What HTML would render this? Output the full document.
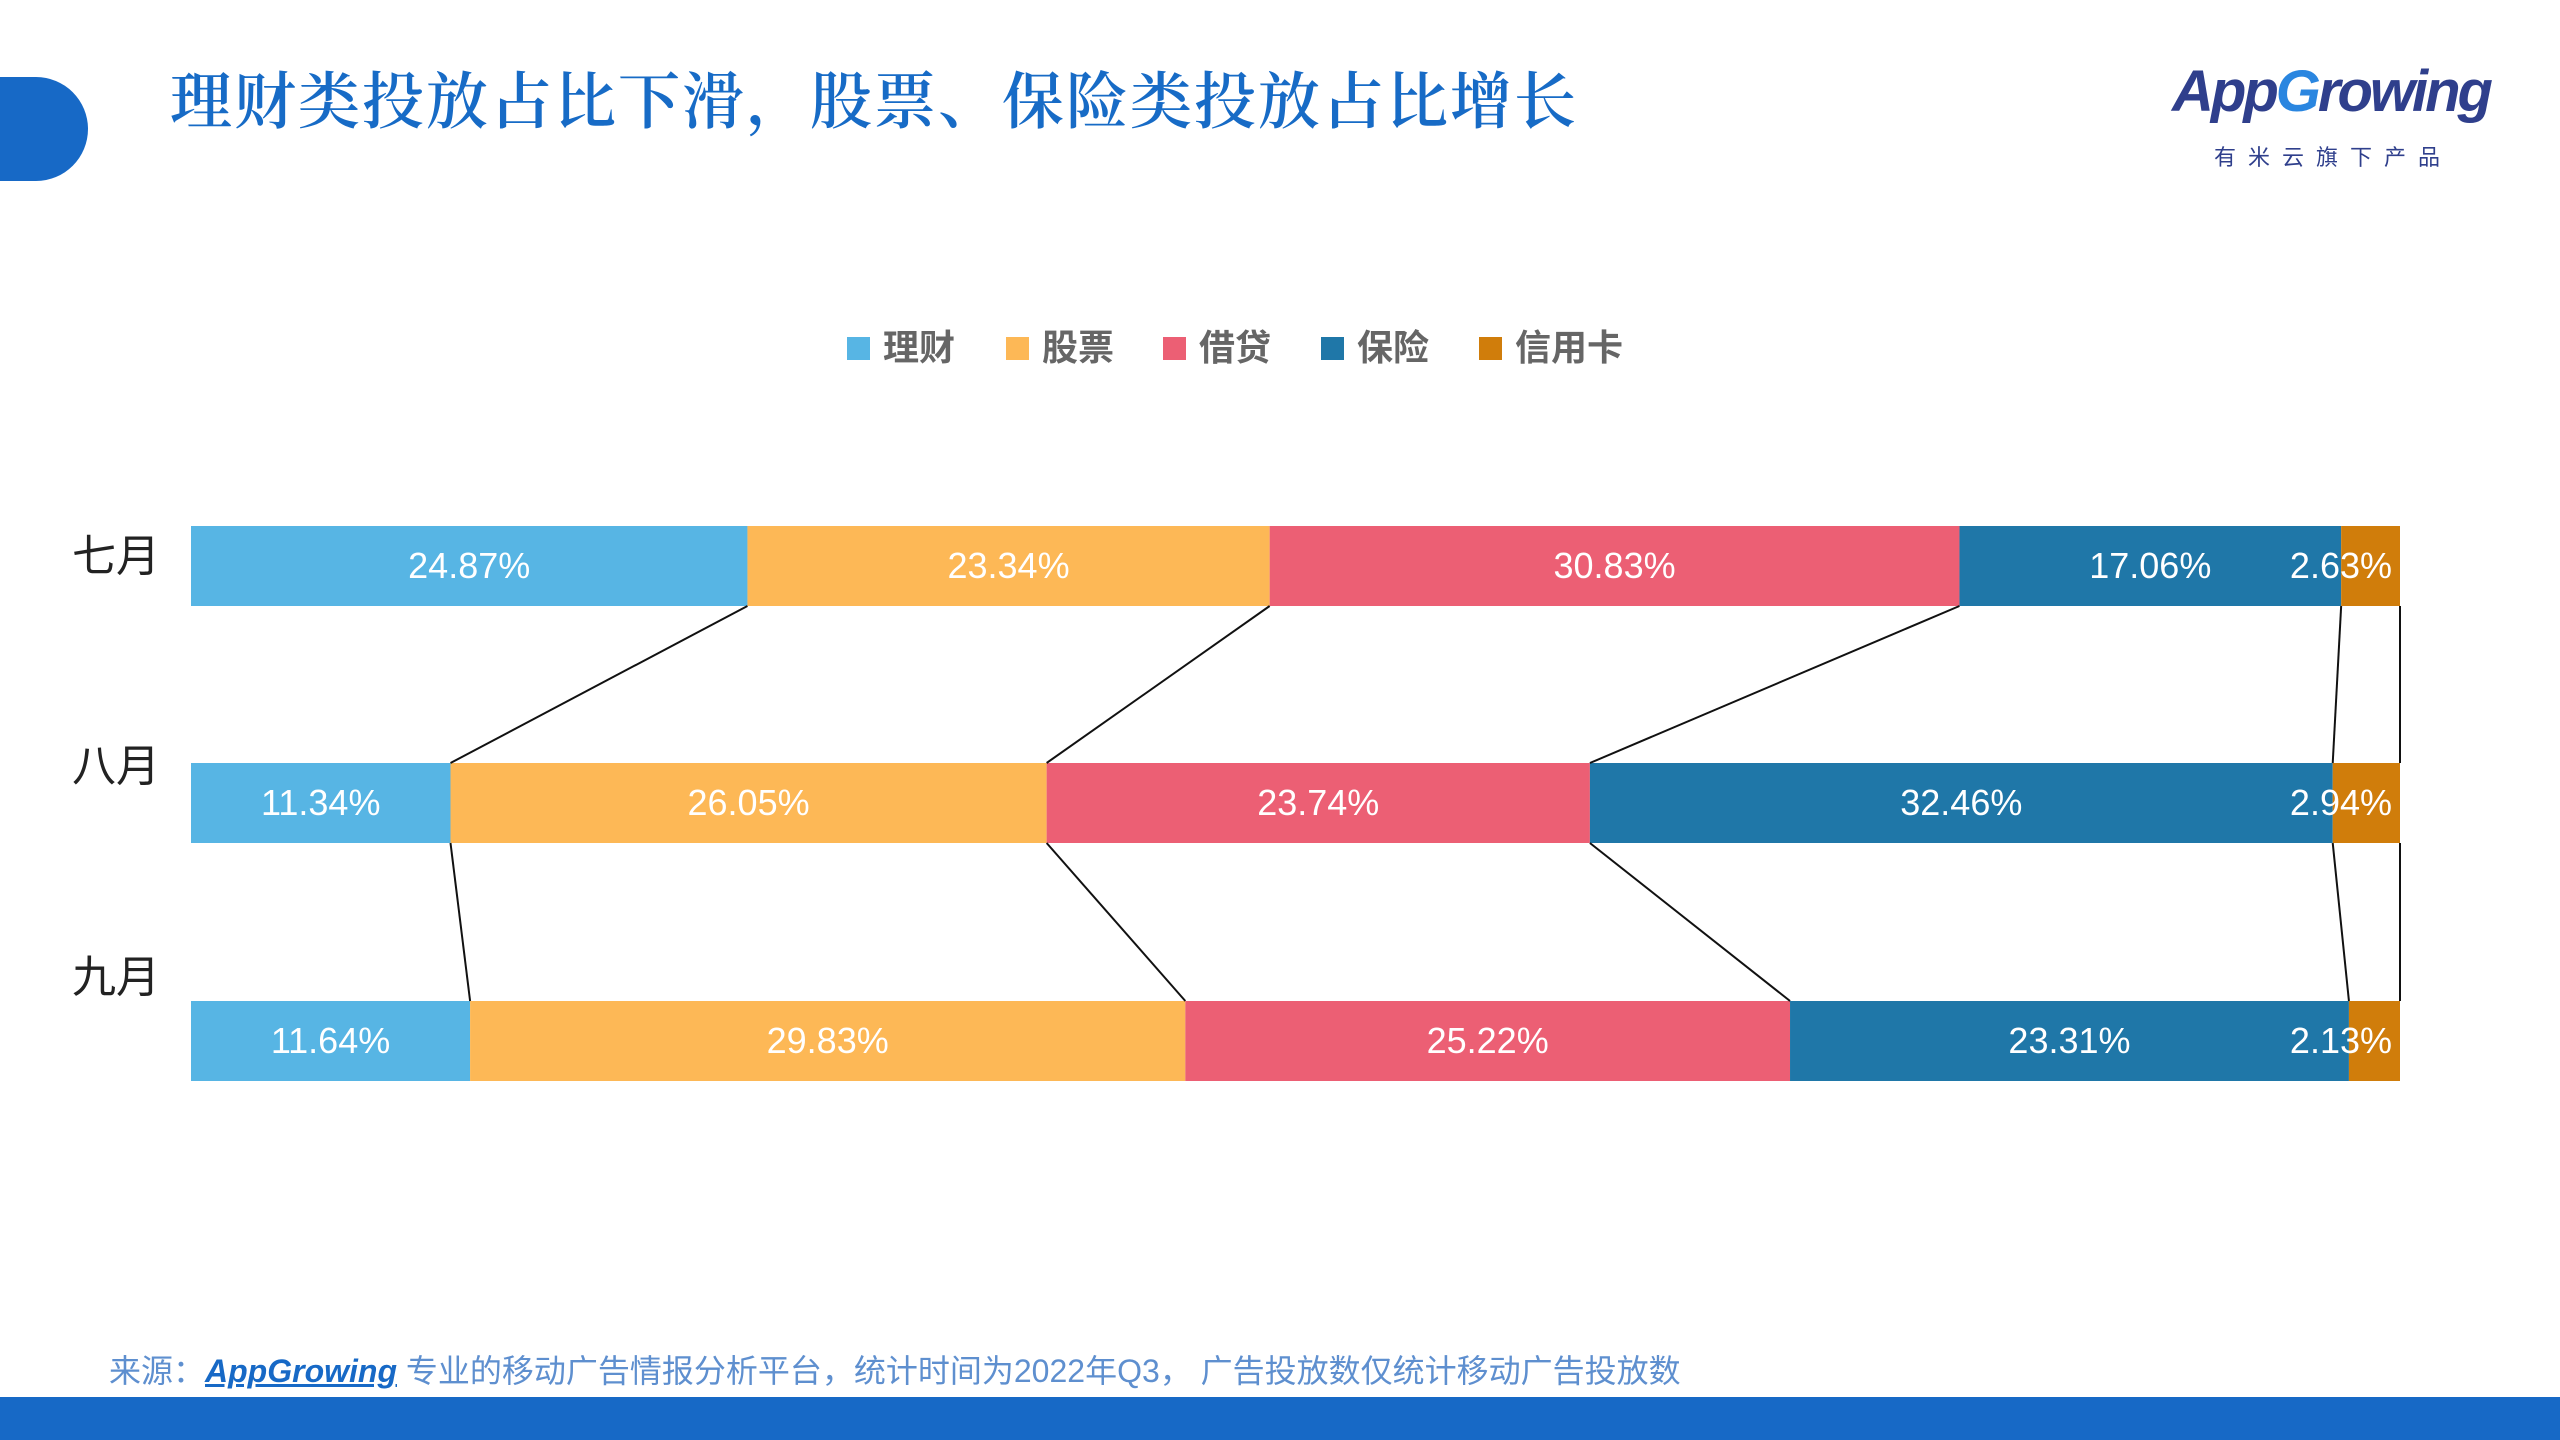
<!DOCTYPE html>
<html><head><meta charset="utf-8">
<style>
html,body{margin:0;padding:0;}
body{width:2560px;height:1440px;position:relative;overflow:hidden;background:#fff;font-family:"Liberation Sans","Noto Sans CJK SC",sans-serif;}
.pill{position:absolute;left:-60px;top:77px;width:148px;height:104px;border-radius:52px;background:#1769c6;}
.title{position:absolute;left:170px;top:52px;font-family:"Liberation Serif","Noto Serif CJK SC",serif;font-size:62px;font-weight:600;color:#176bc6;white-space:nowrap;letter-spacing:2px;}
.logo{position:absolute;left:2172px;top:58px;font-family:"Liberation Sans",sans-serif;font-style:italic;font-weight:bold;font-size:58px;color:#2f3f8c;letter-spacing:-3px;}
.logo-sub{position:absolute;left:2214px;top:140px;font-size:22px;color:#2f3f8c;letter-spacing:12px;}
.footer{position:absolute;left:0;top:1397px;width:2560px;height:43px;background:#1769c6;}
.source{position:absolute;left:109px;top:1346px;font-size:32px;color:#5e8fcf;white-space:nowrap;}
.source b{font-style:italic;color:#1769c6;text-decoration:underline;}
</style></head><body>
<div class="pill"></div>
<div class="title">理财类投放占比下滑，股票、保险类投放占比增长</div>
<div class="logo">App<span style="color:#2a86e0">G</span>rowing</div>
<div class="logo-sub">有米云旗下产品</div>
<svg id="chart" width="2560" height="1440" style="position:absolute;left:0;top:0"></svg>
<div class="source">来源：<b>AppGrowing</b> 专业的移动广告情报分析平台，统计时间为2022年Q3， 广告投放数仅统计移动广告投放数</div>
<div class="footer"></div>
<script>
const categories = ["七月","八月","九月"];
const seriesNames = ["理财","股票","借贷","保险","信用卡"];
const colors = ["#57b5e4","#fdb856","#ec5f74","#1f77a8","#d07d0b"];
const s_licai = [24.87,11.34,11.64];
const s_gupiao = [23.34,26.05,29.83];
const s_jiedai = [30.83,23.74,25.22];
const s_baoxian = [17.06,32.46,23.31];
const s_xinyongka = [2.63,2.94,2.13];
const series=[s_licai,s_gupiao,s_jiedai,s_baoxian,s_xinyongka];
const NS="http://www.w3.org/2000/svg";
const svg=document.getElementById('chart');
const X0=191,X1=2400,rowTop=[526,763,1001],BH=80;
const labelBase=[571,781,992];
function xScale(frac){return X0+frac*(X1-X0);}
function mk(t,a){const e=document.createElementNS(NS,t);for(const k in a)e.setAttribute(k,a[k]);svg.appendChild(e);return e;}
const legX=[847,1006,1163,1321,1479];
seriesNames.forEach((n,i)=>{
 const r=mk('rect',{x:legX[i],y:337,width:23,height:23,fill:colors[i]});
 
 
 const t=mk('text',{x:legX[i]+36,y:360,'font-size':36,fill:'#666','font-weight':'bold'});
 t.textContent=n;
 
 
});
const bounds=[];
categories.forEach((c,ri)=>{
 const tot=series.reduce((s,a)=>s+a[ri],0);
 let acc=0;const b=[];
 const y=rowTop[ri];
 const lbl=mk('text',{x:72,y:labelBase[ri],'font-size':44,fill:'#222'});
 lbl.textContent=c;
 
 
 series.forEach((arr,si)=>{
  const xa=xScale(acc/tot);acc+=arr[ri];const xb=xScale(acc/tot);
  b.push(xb);
  const r=mk('rect',{x:xa,y:y,width:xb-xa,height:BH,fill:colors[si]});
  
  
  const w=xb-xa;
  let tx=(xa+xb)/2,anchor='middle';
  if(w<120){tx=xb-8;anchor='end';}
  const t=mk('text',{x:tx,y:y+BH/2+12,'font-size':36,fill:'#fff','text-anchor':anchor});
  t.textContent=arr[ri].toFixed(2)+'%';
  
  
 });
 bounds.push(b);
});
for(let ri=0;ri<categories.length-1;ri++){
 for(let k=0;k<5;k++){
  const l=mk('line',{x1:bounds[ri][k],y1:rowTop[ri]+BH,x2:bounds[ri+1][k],y2:rowTop[ri+1],stroke:'#111','stroke-width':2});
  
  
 }
}
</script>
</body></html>
